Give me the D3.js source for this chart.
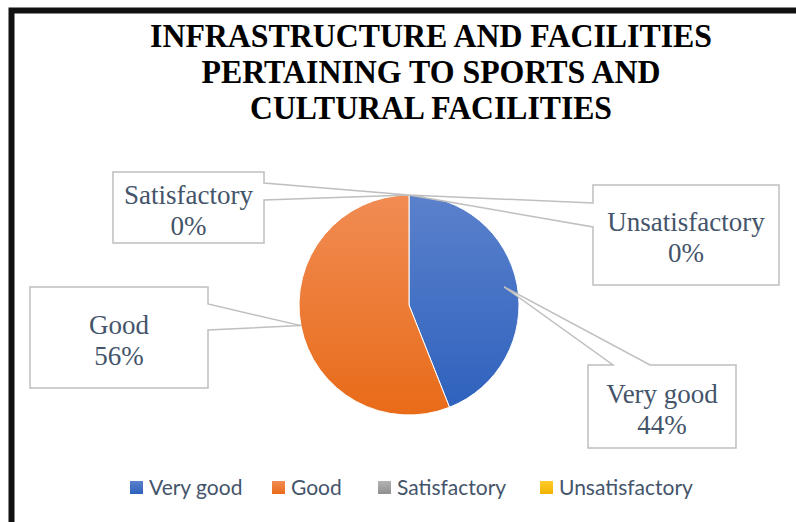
<!DOCTYPE html>
<html>
<head>
<meta charset="utf-8">
<script src="https://cdn.jsdelivr.net/npm/d3@7"></script>
<style>
  html, body { margin: 0; padding: 0; background: #ffffff; }
  svg { display: block; }
</style>
</head>
<body>
<svg id="chart" width="796" height="522"></svg>
<script>
// Survey responses on sports and cultural facilities
const categories = ["Very good", "Good", "Satisfactory", "Unsatisfactory"];
const shares = [44, 56, 0, 0];
const titleLines = [
  "INFRASTRUCTURE AND FACILITIES",
  "PERTAINING TO SPORTS AND",
  "CULTURAL FACILITIES"
];
const gradientStops = [
  ["#5b81cc", "#2d61bd"],
  ["#f18c54", "#e86b18"],
  ["#b3b3b3", "#8f8f8f"],
  ["#ffcb2e", "#f0b400"]
];

const svg = d3.select("#chart");
const W = 796, H = 522;
const cx = 409, cy = 305, R = 110;
const textColor = "#44546A";

// outer frame
svg.append("rect")
  .attr("x", 11.5).attr("y", 10.5)
  .attr("width", W + 20).attr("height", H + 20)
  .attr("fill", "none").attr("stroke", "#111").attr("stroke-width", 6);

// title
const titleWidths = [562, 459, 362];
const title = svg.append("g");
titleLines.forEach((t, i) => {
  title.append("text")
    .attr("x", 431).attr("y", 47 + i * 36)
    .attr("text-anchor", "middle")
    .attr("font-family", "'Liberation Serif', 'Times New Roman', serif")
    .attr("font-weight", "bold")
    .attr("font-size", 33)
    .attr("fill", "#000")
    .attr("textLength", titleWidths[i])
    .attr("lengthAdjust", "spacingAndGlyphs")
    .text(t);
});

// gradients (pie gradients live in the pie group's local space)
const defs = svg.append("defs");
categories.forEach((c, i) => {
  const g = defs.append("linearGradient")
    .attr("id", "grad" + i)
    .attr("gradientUnits", "userSpaceOnUse")
    .attr("x1", 0).attr("x2", 0)
    .attr("y1", -R).attr("y2", R);
  g.append("stop").attr("offset", "0%").attr("stop-color", gradientStops[i][0]);
  g.append("stop").attr("offset", "100%").attr("stop-color", gradientStops[i][1]);
  const lg = defs.append("linearGradient")
    .attr("id", "lgrad" + i)
    .attr("x1", 0).attr("x2", 0).attr("y1", 0).attr("y2", 1);
  lg.append("stop").attr("offset", "0%").attr("stop-color", gradientStops[i][0]);
  lg.append("stop").attr("offset", "100%").attr("stop-color", gradientStops[i][1]);
});

// pie
const data = categories.map((c, i) => ({ name: c, value: shares[i], idx: i }));
const pie = d3.pie().value(d => d.value).sort(null);
const arcs = pie(data);
const arc = d3.arc().innerRadius(0).outerRadius(R);
const pieG = svg.append("g").attr("transform", `translate(${cx},${cy})`);
pieG.selectAll("path")
  .data(arcs.filter(a => a.data.value > 0))
  .join("path")
  .attr("d", arc)
  .attr("fill", d => `url(#grad${d.data.idx})`)
  .attr("stroke", "#ffffff")
  .attr("stroke-width", 1);

// callout boxes: box rect, side of pointer, pointer base span, tip radius factor
const callouts = [
  { box: [588, 365, 736, 448], side: "top", span: [613, 650], rf: 0.88 },
  { box: [30, 287, 208, 388], side: "right", span: [304, 330], rf: 1.0 },
  { box: [113, 172, 264, 243], side: "right", span: [183, 200], rf: 1.0 },
  { box: [593, 185, 779, 285], side: "left", span: [203, 227], rf: 1.0 }
];

const calloutG = svg.append("g");
arcs.forEach((a, i) => {
  const c = callouts[i];
  const mid = (a.startAngle + a.endAngle) / 2;
  const tx = cx + R * c.rf * Math.sin(mid);
  const ty = cy - R * c.rf * Math.cos(mid);
  const [x0, y0, x1, y1] = c.box;
  const p = d3.path();
  if (c.side === "top") {
    p.moveTo(c.span[1], y0); p.lineTo(x1, y0); p.lineTo(x1, y1); p.lineTo(x0, y1);
    p.lineTo(x0, y0); p.lineTo(c.span[0], y0); p.lineTo(tx, ty); p.closePath();
  } else if (c.side === "right") {
    p.moveTo(x1, c.span[1]); p.lineTo(x1, y1); p.lineTo(x0, y1); p.lineTo(x0, y0);
    p.lineTo(x1, y0); p.lineTo(x1, c.span[0]); p.lineTo(tx, ty); p.closePath();
  } else {
    p.moveTo(x0, c.span[0]); p.lineTo(x0, y0); p.lineTo(x1, y0); p.lineTo(x1, y1);
    p.lineTo(x0, y1); p.lineTo(x0, c.span[1]); p.lineTo(tx, ty); p.closePath();
  }
  calloutG.append("path")
    .attr("d", p.toString())
    .attr("fill", "#ffffff")
    .attr("stroke", "#bfbfbf")
    .attr("stroke-width", 1.5)
    .attr("stroke-linejoin", "miter");
  const mx = (x0 + x1) / 2, my = (y0 + y1) / 2;
  const t = calloutG.append("text")
    .attr("text-anchor", "middle")
    .attr("font-family", "'Liberation Serif', 'Times New Roman', serif")
    .attr("font-size", 27)
    .attr("fill", textColor);
  t.append("tspan").attr("x", mx).attr("y", my - 4).text(a.data.name);
  t.append("tspan").attr("x", mx).attr("y", my + 27).text(a.data.value + "%");
});

// legend
const legend = svg.append("g");
const legendX = [130, 272, 378, 540];
categories.forEach((c, i) => {
  const g = legend.append("g").attr("transform", `translate(${legendX[i]},481)`);
  g.append("rect").attr("width", 13).attr("height", 13).attr("fill", `url(#lgrad${i})`);
  g.append("text")
    .attr("x", 19).attr("y", 14)
    .attr("font-family", "Lato, 'Open Sans', sans-serif")
    .attr("font-size", 21)
    .attr("fill", "#44546A")
    .text(c);
});
</script>
</body>
</html>
